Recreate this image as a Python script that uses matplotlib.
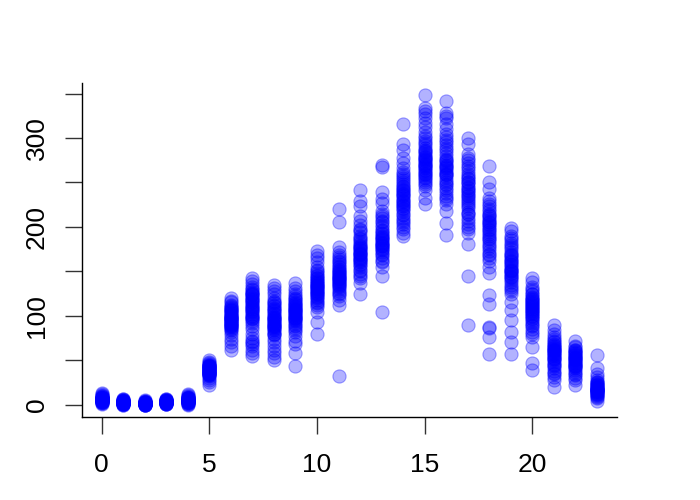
import numpy as np
import matplotlib
matplotlib.use('Agg')
import matplotlib.pyplot as plt

# counts per hour of day
h0 = [1, 2, 3, 3, 4, 4, 5, 5, 6, 6, 7, 7, 8, 8, 9, 10, 11, 12, 13, 5, 4, 6, 3, 2, 8,
      5, 6, 7, 4, 3, 9, 10, 6, 5, 7]
h1 = [0, 1, 1, 2, 2, 3, 3, 3, 4, 4, 5, 5, 6, 2, 1, 3, 4, 2, 1, 0, 3, 5, 2, 4, 6,
      3, 2, 4, 1, 3, 2]
h2 = [0, 0, 1, 1, 1, 2, 2, 2, 3, 3, 4, 5, 1, 0, 2, 1, 3, 2, 0, 1, 4, 2, 1, 3, 0,
      1, 2, 3, 1, 2]
h3 = [1, 1, 2, 2, 3, 3, 4, 4, 5, 5, 6, 3, 2, 4, 1, 3, 5, 2, 4, 3, 6, 2, 1, 4, 3,
      2, 3, 4, 5, 3]
h4 = [0, 1, 2, 3, 3, 4, 4, 5, 5, 6, 7, 8, 9, 10, 11, 12, 2, 3, 4, 6, 5, 1, 7, 4, 3,
      5, 6, 4, 8, 7, 9, 3]
h5 = [22, 26, 28, 30, 32, 33, 34, 35, 36, 37, 38, 39, 40, 41, 42, 43, 44, 45, 46, 47, 48, 50, 38, 36, 40,
      35, 37, 39, 41, 43, 45, 42, 38, 40, 36, 44, 33]
h6 = [62, 66, 70, 74, 78, 82, 85, 88, 90, 92, 94, 96, 98, 100, 102, 104, 106, 108, 110, 112, 115, 117, 120, 95, 99, 87,
      84, 89, 91, 93, 97, 101, 103, 105, 107, 109, 92, 96, 100, 94, 98, 111, 86, 90]
h7 = [55, 58, 62, 66, 70, 75, 80, 85, 88, 92, 96, 100, 104, 108, 112, 115, 118, 121, 124, 127, 130, 132, 136, 139, 142, 110, 98,
      94, 97, 102, 105, 107, 111, 114, 117, 120, 123, 126, 129, 72, 68, 100, 109, 119, 125]
h8 = [50, 54, 58, 62, 66, 70, 74, 78, 82, 86, 90, 93, 96, 99, 102, 105, 108, 111, 114, 117, 120, 124, 128, 131, 135, 88, 95,
      80, 84, 87, 89, 91, 94, 97, 100, 103, 106, 109, 112, 92, 98, 85, 79, 115]
h9 = [44, 58, 68, 72, 77, 82, 86, 90, 94, 98, 101, 104, 107, 110, 113, 116, 119, 122, 125, 128, 131, 137, 100, 96, 108,
      92, 95, 97, 99, 102, 105, 109, 111, 114, 118, 120, 103, 106, 112, 88, 84]
h10 = [80, 93, 104, 110, 114, 118, 122, 126, 130, 134, 137, 140, 143, 146, 148, 152, 155, 160, 165, 168, 173, 128, 124, 138,
       116, 120, 125, 129, 132, 135, 139, 142, 145, 127, 131, 136, 121, 133, 150, 112]
h11 = [32, 112, 118, 122, 126, 130, 134, 138, 141, 144, 147, 150, 153, 156, 160, 164, 168, 172, 177, 205, 220, 140, 146, 135,
       128, 132, 137, 139, 142, 145, 148, 151, 155, 158, 162, 143, 149, 136, 166, 125]
h12 = [125, 137, 142, 147, 152, 157, 162, 166, 170, 174, 178, 182, 186, 190, 194, 198, 202, 207, 212, 223, 229, 242, 168, 160, 176,
       150, 155, 158, 163, 165, 169, 172, 175, 180, 184, 188, 164, 171, 177, 196, 145]
h13 = [104, 145, 155, 160, 165, 170, 175, 180, 185, 190, 195, 200, 205, 210, 214, 218, 227, 231, 239, 267, 270, 188, 178, 182,
       168, 172, 176, 179, 183, 186, 189, 192, 197, 202, 207, 212, 174, 181, 193, 162]
h14 = [190, 193, 198, 203, 208, 213, 218, 223, 228, 233, 238, 243, 248, 253, 257, 262, 266, 272, 278, 286, 293, 316, 240, 226, 235,
       205, 210, 215, 220, 225, 230, 236, 241, 246, 251, 255, 221, 229, 237, 245, 200, 260]
h15 = [226, 232, 241, 246, 251, 256, 261, 266, 270, 274, 278, 282, 287, 292, 297, 302, 307, 312, 317, 322, 327, 334, 348, 268, 260, 276,
       248, 253, 258, 263, 267, 271, 275, 279, 284, 289, 294, 264, 272, 280, 255, 285, 300, 330]
h16 = [191, 204, 218, 226, 232, 238, 244, 250, 256, 262, 268, 274, 280, 286, 292, 298, 304, 310, 316, 322, 328, 342, 258, 266, 272,
       235, 241, 247, 253, 259, 264, 270, 276, 283, 289, 295, 301, 260, 267, 275, 248, 325, 230]
h17 = [90, 145, 181, 193, 200, 207, 214, 221, 228, 235, 242, 248, 254, 260, 266, 272, 278, 282, 293, 300, 230, 240, 250,
       203, 210, 217, 224, 232, 238, 245, 251, 257, 263, 269, 275, 226, 236, 244, 255, 215, 198]
h18 = [57, 76, 87, 86, 113, 123, 148, 155, 162, 170, 178, 186, 194, 200, 206, 212, 218, 224, 229, 233, 243, 250, 268, 190, 203, 208,
       165, 173, 181, 188, 196, 202, 210, 215, 220, 226, 198, 205, 192, 184, 176, 168, 213]
h19 = [57, 71, 82, 95, 106, 115, 125, 130, 135, 140, 145, 150, 155, 160, 165, 170, 175, 180, 185, 190, 195, 199, 150, 158, 144,
       132, 138, 142, 147, 152, 157, 162, 167, 172, 177, 182, 187, 148, 153, 163, 168, 128]
h20 = [39, 47, 65, 76, 82, 88, 94, 100, 105, 110, 115, 120, 124, 128, 132, 138, 143, 100, 108, 112, 118, 96,
       85, 90, 98, 102, 104, 107, 111, 114, 117, 121, 125, 130, 92, 103, 109, 113, 119, 80]
h21 = [20, 28, 31, 36, 41, 46, 51, 56, 60, 64, 68, 72, 76, 80, 84, 90, 55, 62, 58, 48, 65,
       38, 44, 50, 53, 57, 61, 63, 66, 70, 52, 59, 45, 67, 74, 34]
h22 = [22, 28, 33, 37, 41, 45, 49, 53, 57, 61, 65, 72, 50, 47, 55, 43, 58,
       35, 39, 44, 48, 51, 54, 56, 60, 62, 46, 52, 42, 59, 66, 30]
h23 = [4, 8, 10, 12, 14, 16, 18, 20, 22, 24, 26, 28, 31, 41, 56, 15, 18, 20, 13, 17, 22,
       11, 14, 16, 19, 21, 23, 12, 15, 18, 25, 9, 17, 35]

counts = [h0, h1, h2, h3, h4, h5, h6, h7, h8, h9, h10, h11,
          h12, h13, h14, h15, h16, h17, h18, h19, h20, h21, h22, h23]

hour = np.concatenate([[h] * len(c) for h, c in enumerate(counts)])
cnt = np.concatenate(counts)

plt.rcParams['font.family'] = ['Liberation Sans', 'DejaVu Sans']

fig = plt.figure(figsize=(7, 5), dpi=100)
ax = fig.add_axes([0.117, 0.166, 0.764, 0.668])

ax.scatter(hour, cnt, s=90, facecolor=(0, 0, 1, 0.3),
           edgecolor=(0, 0, 1, 0.35), linewidth=0.8)

# R style 4% padding
xr = hour.max() - hour.min()
yr = cnt.max() - cnt.min()
ax.set_xlim(hour.min() - 0.04 * xr, hour.max() + 0.04 * xr)
ax.set_ylim(cnt.min() - 0.04 * yr, cnt.max() + 0.04 * yr)

ax.set_xticks([0, 5, 10, 15, 20])
yt = np.arange(0, 351, 50)
ax.set_yticks(yt)
ax.set_yticklabels([str(v) if v % 100 == 0 else '' for v in yt])

ax.spines['top'].set_visible(False)
ax.spines['right'].set_visible(False)
for s in ['left', 'bottom']:
    ax.spines[s].set_linewidth(1.0)

ax.tick_params(axis='both', length=12, width=1.0, color='#333333', labelsize=19)
ax.tick_params(axis='x', pad=14)
ax.tick_params(axis='y', pad=12, labelrotation=90)
for lab in ax.get_yticklabels():
    lab.set_verticalalignment('center')

fig.savefig('out.png', dpi=100)
